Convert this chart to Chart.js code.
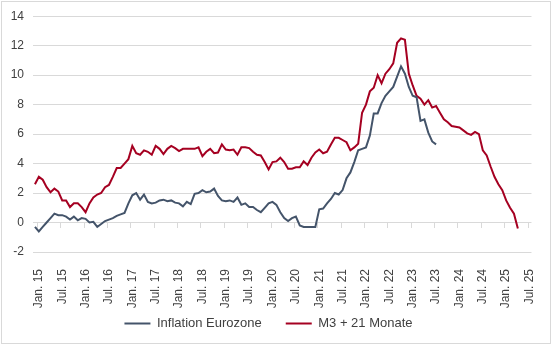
<!DOCTYPE html>
<html>
<head>
<meta charset="utf-8">
<script src="https://cdn.jsdelivr.net/npm/chart.js@4/dist/chart.umd.min.js"></script>
<style>
  html, body { margin: 0; padding: 0; background: #fff; }
</style>
</head>
<body>
<canvas id="chart" width="553" height="345"></canvas>
<script>
// Monthly categories run from Dec 2014 to Jul 2025, labels only on Jan/Jul
const firstYear = 2014;
const firstMonth = 11; // December (0-based)
const monthCount = 128;
const tickLabels = ['Jan. 15', 'Jul. 15', 'Jan. 16', 'Jul. 16', 'Jan. 17', 'Jul. 17',
    'Jan. 18', 'Jul. 18', 'Jan. 19', 'Jul. 19', 'Jan. 20', 'Jul. 20', 'Jan. 21', 'Jul. 21',
    'Jan. 22', 'Jul. 22', 'Jan. 23', 'Jul. 23', 'Jan. 24', 'Jul. 24', 'Jan. 25', 'Jul. 25'];

// Inflation Eurozone (% y/y), Dec 2014 .. Jul 2023
const inflation = [
    -0.3, -0.6, -0.3, 0.0, 0.3, 0.6, 0.5, 0.5, 0.4, 0.2, 0.4, 0.15,
    0.3, 0.25, 0.0, 0.05, -0.3, -0.1, 0.1, 0.2, 0.3, 0.45, 0.55, 0.65,
    1.3, 1.85, 2.0, 1.55, 1.9, 1.4, 1.3, 1.35, 1.5, 1.55, 1.45, 1.5,
    1.35, 1.3, 1.1, 1.4, 1.25, 1.95, 2.0, 2.2, 2.05, 2.1, 2.3, 1.8,
    1.5, 1.45, 1.5, 1.4, 1.7, 1.2, 1.3, 1.05, 1.05, 0.85, 0.7, 1.0,
    1.3, 1.4, 1.2, 0.7, 0.3, 0.1, 0.3, 0.4, -0.2, -0.3, -0.3, -0.3,
    -0.3, 0.9, 0.95, 1.3, 1.6, 2.0, 1.9, 2.2, 3.0, 3.4, 4.1, 4.9,
    5.0, 5.1, 5.9, 7.4, 7.4, 8.1, 8.6, 8.9, 9.2, 9.9, 10.6, 10.1,
    9.2, 8.6, 8.5, 6.9, 7.0, 6.1, 5.5, 5.3
];

// M3 growth shifted forward by 21 months (%), Dec 2014 .. Apr 2025
const m3Shifted = [
    2.6, 3.1, 2.9, 2.4, 2.05, 2.3, 2.1, 1.5, 1.5, 1.05, 1.3, 1.3,
    1.05, 0.7, 1.3, 1.7, 1.9, 2.0, 2.4, 2.55, 3.1, 3.7, 3.7, 4.0,
    4.3, 5.2, 4.7, 4.6, 4.9, 4.8, 4.6, 5.2, 5.0, 4.65, 5.0, 5.2,
    5.05, 4.85, 5.0, 5.0, 5.0, 5.0, 5.1, 4.5, 4.8, 5.0, 4.7, 4.75,
    5.3, 4.95, 4.9, 4.95, 4.6, 5.1, 5.1, 5.05, 4.8, 4.6, 4.55, 4.1,
    3.6, 4.1, 4.15, 4.4, 4.1, 3.65, 3.65, 3.75, 3.75, 4.15, 3.9, 4.4,
    4.75, 4.95, 4.7, 4.8, 5.3, 5.75, 5.75, 5.6, 5.45, 4.9, 5.1, 5.35,
    7.45, 8.0, 8.9, 9.15, 10.0, 9.45, 10.1, 10.4, 10.8, 12.2, 12.5, 12.4,
    10.1, 9.3, 8.6, 8.4, 8.0, 8.3, 7.8, 7.9, 7.45, 7.0, 6.8, 6.55,
    6.5, 6.45, 6.25, 6.05, 5.95, 6.15, 6.0, 4.9, 4.55, 3.8, 3.1, 2.6,
    2.2, 1.5, 1.0, 0.6, -0.4
];

const yTicks = [-2, 0, 2, 4, 6, 8, 10, 12, 14];

// Build category list and the visible label for each month
const categories = [];
const shownLabels = [];
let labelIdx = 0;
for (let i = 0; i < monthCount; i++) {
    const m = (firstMonth + i) % 12;
    const y = firstYear + Math.floor((firstMonth + i) / 12);
    categories.push(y + '-' + String(m + 1).padStart(2, '0'));
    if (m === 0 || m === 6) {
        shownLabels.push(tickLabels[labelIdx++]);
    } else {
        shownLabels.push('');
    }
}

const textColor = '#404040';
const gridColor = '#D9D9D9';
const fontFamily = '"Liberation Sans", Arial, sans-serif';

// Chart frame and white background; let the rotated x labels run past the axis box
const frame = {
    id: 'frame',
    afterLayout(chart) {
        chart.scales.x.bottom = chart.height;
    },
    beforeDraw(chart) {
        const ctx = chart.ctx;
        ctx.save();
        ctx.fillStyle = '#fff';
        ctx.fillRect(0, 0, chart.width, chart.height);
        ctx.strokeStyle = gridColor;
        ctx.lineWidth = 1;
        ctx.strokeRect(1.5, 1.5, 549, 342);
        ctx.restore();
    }
};

// Small tick marks on the zero line between Dec/Jan and Jun/Jul
const zeroTicks = {
    id: 'zeroTicks',
    beforeDatasetsDraw(chart) {
        const xs = chart.scales.x, ys = chart.scales.y, ctx = chart.ctx;
        const y0 = Math.round(ys.getPixelForValue(0));
        ctx.save();
        ctx.strokeStyle = gridColor;
        ctx.lineWidth = 1;
        ctx.beginPath();
        for (let i = 1; i < categories.length; i++) {
            if (shownLabels[i] === '') continue;
            const px = Math.round((xs.getPixelForValue(i - 1) + xs.getPixelForValue(i)) / 2) + 0.5;
            ctx.moveTo(px, y0);
            ctx.lineTo(px, y0 + 5);
        }
        ctx.stroke();
        ctx.restore();
    }
};

new Chart(document.getElementById('chart'), {
    type: 'line',
    data: {
        labels: categories,
        datasets: [
            {
                label: 'Inflation Eurozone',
                data: inflation,
                borderColor: '#44546A',
                backgroundColor: '#44546A',
                borderWidth: 2,
                pointRadius: 0,
                tension: 0
            },
            {
                label: 'M3 + 21 Monate',
                data: m3Shifted,
                borderColor: '#A50021',
                backgroundColor: '#A50021',
                borderWidth: 2,
                pointRadius: 0,
                tension: 0
            }
        ]
    },
    options: {
        responsive: false,
        animation: false,
        layout: { padding: { left: 0, right: 16, top: 14, bottom: 5 } },
        font: { family: fontFamily, size: 12 },
        plugins: {
            tooltip: { enabled: false },
            legend: {
                position: 'bottom',
                labels: {
                    usePointStyle: true,
                    pointStyle: 'line',
                    pointStyleWidth: 26,
                    boxHeight: 12,
                    padding: 24,
                    color: textColor,
                    font: { family: fontFamily, size: 13 }
                }
            }
        },
        scales: {
            x: {
                type: 'category',
                offset: true,
                grid: { display: false },
                border: { display: false },
                afterFit: s => { s.height = 41; },
                ticks: {
                    autoSkip: false,
                    minRotation: 90,
                    maxRotation: 90,
                    padding: 9,
                    color: textColor,
                    font: { family: fontFamily, size: 12 },
                    callback: (v, i) => shownLabels[i]
                }
            },
            y: {
                min: -2,
                max: 14,
                afterFit: s => { s.width = 33; },
                afterBuildTicks: s => { s.ticks = yTicks.map(v => ({ value: v })); },
                grid: { color: gridColor, drawTicks: false },
                border: { display: false },
                ticks: {
                    padding: 9,
                    color: textColor,
                    font: { family: fontFamily, size: 12 }
                }
            }
        }
    },
    plugins: [frame, zeroTicks]
});
</script>
</body>
</html>
